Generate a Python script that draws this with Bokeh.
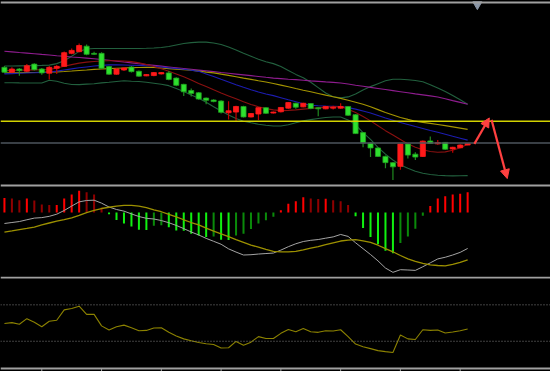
import numpy as np
from bokeh.plotting import figure
from bokeh.layouts import column
from bokeh.models import Range1d, Span, Arrow, NormalHead
from bokeh.embed import file_html
from bokeh.resources import INLINE

# ---------------- data ----------------
open_ = [131.7, 126.7, 130.0, 127.7, 135.0, 130.0, 125.7, 130.7, 132.7, 146.0,
         147.7, 153.3, 146.0, 146.0, 132.5, 124.7, 129.0, 132.0, 127.7, 123.0,
         123.3, 125.0, 126.0, 120.7, 114.3, 108.0, 105.7, 100.3, 98.3, 97.3,
         85.3, 86.0, 91.7, 81.0, 84.0, 90.5, 85.0, 86.3, 90.0, 95.0,
         91.3, 94.7, 90.3, 89.3, 90.0, 90.0, 91.7, 83.3, 65.0, 54.3,
         49.3, 40.7, 34.3, 30.5, 53.3, 43.0, 40.7, 56.5, 53.5, 55.0,
         48.3, 49.5, 52.3]
close = [126.7, 130.0, 128.3, 133.3, 129.3, 126.0, 131.7, 132.7, 146.7, 149.0,
         154.0, 145.0, 145.0, 130.7, 124.7, 130.0, 131.0, 127.3, 122.7, 124.3,
         126.3, 126.3, 119.3, 113.3, 106.7, 105.0, 99.3, 98.0, 96.7, 85.7,
         87.3, 91.7, 81.0, 84.5, 90.5, 84.7, 86.0, 90.7, 95.7, 91.0,
         95.0, 89.7, 89.3, 91.7, 91.0, 91.7, 82.7, 64.0, 54.3, 49.3,
         40.7, 34.3, 30.0, 53.3, 42.0, 40.0, 56.3, 54.0, 54.8, 48.0,
         50.0, 52.3, 54.0]
high = [133.0, 131.7, 131.0, 135.0, 136.0, 131.0, 133.0, 134.0, 148.0, 151.0,
        156.0, 155.0, 147.7, 147.0, 133.3, 131.0, 132.0, 133.0, 128.5, 125.0,
        127.0, 127.0, 128.0, 121.5, 115.0, 110.0, 106.5, 101.0, 99.0, 98.0,
        97.0, 92.5, 92.5, 85.0, 91.0, 91.0, 86.5, 91.0, 96.0, 95.5,
        95.5, 95.0, 91.0, 92.0, 92.5, 95.0, 92.0, 84.0, 65.5, 55.0,
        50.0, 41.5, 35.0, 54.0, 54.0, 45.0, 57.0, 61.0, 57.5, 55.5,
        50.5, 53.0, 54.5]
low = [126.0, 125.7, 123.0, 127.0, 128.5, 124.0, 119.3, 125.0, 132.0, 145.0,
       147.0, 144.0, 144.5, 130.0, 124.0, 124.0, 128.0, 126.5, 122.0, 122.5,
       122.5, 124.5, 118.5, 112.5, 102.3, 102.0, 98.5, 94.0, 96.0, 84.5,
       78.3, 77.0, 80.5, 80.5, 78.0, 84.0, 84.5, 85.5, 89.5, 89.3,
       91.0, 89.0, 81.7, 89.0, 88.5, 89.5, 82.0, 63.5, 50.0, 40.0,
       40.0, 28.5, 16.7, 27.0, 38.5, 37.0, 40.0, 53.5, 52.5, 47.5,
       44.3, 49.0, 52.0]

boll_upper = [133.0, 133.0, 133.2, 133.3, 133.5, 133.7, 134.0, 135.5, 138.5, 143.0,
              148.0, 150.5, 151.0, 151.0, 151.0, 151.0, 151.0, 151.0, 151.0, 151.2,
              151.5, 152.0, 153.0, 154.5, 156.0, 157.0, 157.5, 157.5, 156.5, 155.0,
              152.5, 149.5, 146.0, 143.0, 140.0, 137.5, 135.5, 132.5, 128.5, 124.5,
              121.0, 116.5, 111.0, 105.5, 101.7, 100.5, 101.5, 104.5, 108.5, 112.0,
              115.0, 118.0, 119.5, 119.5, 119.0, 118.3, 117.0, 114.0, 110.5, 107.0,
              103.0, 98.5, 94.0]
boll_mid = [128.5, 128.5, 128.7, 128.9, 129.1, 129.3, 129.5, 131.0, 132.8, 134.5,
            136.0, 137.0, 137.7, 138.2, 138.5, 138.5, 138.2, 137.5, 136.3, 134.5,
            132.5, 130.2, 127.8, 125.0, 122.0, 118.7, 115.3, 112.0, 108.7, 105.5,
            102.5, 99.5, 96.5, 93.8, 91.5, 89.5, 88.2, 87.5, 87.7, 88.2,
            89.0, 89.7, 90.4, 91.0, 91.4, 91.6, 89.0, 85.5, 81.5, 77.0,
            72.0, 67.0, 62.5, 58.0, 53.5, 50.0, 47.5, 45.7, 45.0, 45.3,
            47.0, 49.5, 53.0]
boll_lower = [116.0, 116.0, 115.8, 115.7, 115.7, 115.7, 118.5, 117.5, 115.5, 114.2,
              114.0, 114.5, 115.0, 115.8, 116.5, 117.3, 118.0, 117.5, 117.3, 116.5,
              115.5, 114.5, 113.0, 110.0, 107.0, 103.5, 100.0, 96.0, 91.5, 87.0,
              83.0, 79.5, 76.7, 75.0, 73.5, 72.5, 71.7, 71.7, 73.0, 75.0,
              77.0, 78.3, 79.5, 80.5, 81.0, 81.0, 78.0, 73.0, 65.0, 58.0,
              50.0, 43.0, 37.0, 32.0, 28.5, 25.5, 23.5, 22.2, 21.4, 21.0,
              20.8, 20.9, 21.0]
ma_blue = [125.0, 125.3, 125.6, 125.9, 126.2, 126.5, 126.7, 127.8, 129.0, 130.1,
           131.2, 132.1, 133.0, 133.7, 134.2, 134.2, 134.1, 133.9, 133.7, 133.4,
           132.8, 132.0, 131.2, 130.5, 129.7, 128.8, 127.6, 125.0, 122.3, 119.5,
           116.8, 114.0, 111.3, 108.8, 106.5, 104.5, 102.8, 100.7, 98.5, 96.5,
           94.5, 93.0, 92.5, 92.2, 92.0, 91.7, 90.5, 89.0, 87.0, 85.0,
           82.5, 80.0, 77.7, 75.4, 73.3, 71.2, 69.2, 67.2, 65.4, 63.4,
           61.3, 59.3, 57.3]
ma_olive = [126.0, 126.1, 126.2, 126.4, 126.5, 126.7, 126.9, 127.1, 127.4, 127.9,
            128.5, 129.0, 129.6, 130.0, 130.4, 130.8, 131.1, 131.4, 131.6, 131.7,
            131.5, 131.0, 130.4, 129.8, 129.4, 128.7, 127.8, 126.8, 126.0, 124.8,
            123.5, 122.1, 120.7, 119.4, 118.0, 116.7, 115.2, 113.5, 111.8, 110.0,
            108.3, 106.7, 105.0, 103.3, 101.7, 100.0, 98.0, 96.0, 94.0, 91.5,
            88.5, 85.5, 83.0, 80.5, 78.5, 76.7, 75.5, 74.4, 73.3, 72.1,
            70.9, 69.6, 68.3]
ma_purple = [148.1, 147.5, 146.8, 146.2, 145.6, 144.9, 144.3, 143.6, 143.0, 142.3,
             141.7, 141.1, 140.4, 139.7, 138.9, 138.0, 137.1, 136.3, 135.4, 134.5,
             133.7, 132.9, 132.1, 131.3, 130.5, 129.7, 128.9, 128.1, 127.3, 126.4,
             125.6, 124.8, 124.0, 123.2, 122.4, 121.5, 120.7, 120.2, 119.6, 119.1,
             118.5, 117.9, 117.4, 116.8, 116.3, 115.7, 114.6, 113.4, 112.3, 111.2,
             110.1, 109.0, 107.9, 106.8, 105.7, 104.6, 103.6, 102.5, 101.4, 99.6,
             97.7, 95.9, 94.0]
level_yellow = 76.7
level_gray = 54.3

macd_hist = [0.150, 0.144, 0.127, 0.144, 0.124, 0.084, 0.077, 0.078, 0.144, 0.184,
             0.224, 0.207, 0.184, 0.050, -0.016, -0.076, -0.110, -0.143, -0.176, -0.178,
             -0.133, -0.128, -0.150, -0.183, -0.185, -0.217, -0.233, -0.250, -0.245, -0.277,
             -0.280, -0.233, -0.217, -0.167, -0.110, -0.077, -0.043, 0.024, 0.090, 0.117,
             0.157, 0.144, 0.140, 0.142, 0.127, 0.117, 0.077, -0.036, -0.156, -0.250,
             -0.323, -0.390, -0.416, -0.310, -0.243, -0.166, -0.033, 0.067, 0.144, 0.167,
             0.184, 0.194, 0.207]
macd_dif = [-0.111, -0.101, -0.091, -0.073, -0.056, -0.051, -0.038, -0.016, 0.022, 0.067,
            0.110, 0.124, 0.127, 0.097, 0.057, 0.032, 0.015, -0.013, -0.040, -0.058,
            -0.065, -0.081, -0.103, -0.131, -0.163, -0.198, -0.228, -0.263, -0.293, -0.323,
            -0.370, -0.403, -0.433, -0.430, -0.423, -0.418, -0.413, -0.383, -0.348, -0.318,
            -0.295, -0.283, -0.275, -0.261, -0.248, -0.223, -0.243, -0.308, -0.368, -0.428,
            -0.493, -0.566, -0.610, -0.583, -0.586, -0.590, -0.553, -0.513, -0.473, -0.456,
            -0.433, -0.406, -0.366]
macd_dea = [-0.200, -0.187, -0.173, -0.161, -0.148, -0.126, -0.106, -0.087, -0.071, -0.053,
            -0.028, 0.000, 0.022, 0.042, 0.055, 0.067, 0.075, 0.075, 0.067, 0.052,
            0.029, 0.009, -0.018, -0.043, -0.073, -0.101, -0.126, -0.158, -0.188, -0.218,
            -0.245, -0.275, -0.303, -0.331, -0.353, -0.376, -0.396, -0.400, -0.400, -0.395,
            -0.381, -0.363, -0.348, -0.328, -0.308, -0.290, -0.281, -0.276, -0.288, -0.305,
            -0.333, -0.368, -0.400, -0.438, -0.473, -0.498, -0.518, -0.533, -0.540, -0.543,
            -0.528, -0.508, -0.483]

rsi = [49.5, 50.5, 48.7, 54.8, 50.9, 45.9, 52.0, 53.1, 64.5, 66.0,
       68.5, 59.5, 59.5, 46.9, 42.3, 45.9, 47.7, 44.8, 41.6, 41.9,
       44.5, 44.8, 39.8, 35.8, 32.6, 30.5, 28.7, 27.2, 26.5, 22.6,
       22.9, 29.8, 25.5, 29.0, 35.1, 33.0, 33.0, 38.7, 43.0, 40.5,
       44.1, 40.5, 39.8, 41.6, 41.2, 42.6, 35.1, 26.9, 24.0, 21.9,
       19.7, 18.6, 17.6, 36.9, 32.6, 31.9, 42.6, 41.9, 42.3, 39.1,
       40.1, 41.6, 43.4]
rsi_levels = [70, 30]

tick_idx = list(range(5, 63, 8))

# hand-drawn projection arrows (bar index, price)
proj_up_x, proj_up_y = [62.9, 64.9], [53.5, 80.0]
proj_down_x, proj_down_y = [65.2, 67.3], [78.0, 18.0]
marker_x, marker_y = [63.3], [196.0]

# ---------------- styling ----------------
W = 550
H_A, H_B, H_C = 183, 93, 95
BG = "#000000"
SEP = "#a0a0a0"
UP, DOWN = "#ff1a1a", "#2ee02e"
UP_WICK, DOWN_WICK = "#c00000", "#1f8a1f"

n = len(open_)
idx = np.arange(n)
xr = Range1d(-0.527, 73.09)


def make_fig(h, y0, y1):
    f = figure(width=W, height=h, x_range=xr, y_range=Range1d(y0, y1),
               output_backend="svg", toolbar_location=None,
               x_axis_type=None, y_axis_type=None,
               min_border=0, background_fill_color=BG, border_fill_color=BG,
               outline_line_color=None)
    f.grid.visible = False
    return f


# ---- price panel ----
pa = make_fig(H_A, 13, 200)
pa.add_layout(Span(location=198, dimension="width", line_color=SEP, line_width=2))
pa.add_layout(Span(location=level_yellow, dimension="width", line_color="#d2d200", line_width=1.5))
pa.add_layout(Span(location=level_gray, dimension="width", line_color="#4c545c", line_width=1.5))

pa.line(idx, boll_upper, line_color="#22603e", line_width=1.1)
pa.line(idx, boll_lower, line_color="#22603e", line_width=1.1)
pa.line(idx, ma_purple, line_color="#8e1c8e", line_width=1.1)
pa.line(idx, ma_olive, line_color="#a49400", line_width=1.1)
pa.line(idx, ma_blue, line_color="#1c1cb0", line_width=1.1)
pa.line(idx, boll_mid, line_color="#8a1010", line_width=1.1)

o = np.array(open_); c = np.array(close)
up = c >= o
wick_col = np.where(up, UP_WICK, DOWN_WICK)
body_col = np.where(up, UP, DOWN)
body_line = np.where(up, UP, "#1fa01f")
pa.segment(idx, high, idx, low, line_color=list(wick_col), line_width=1.2)
pa.vbar(x=idx, top=np.maximum(o, c), bottom=np.minimum(o, c), width=0.68,
        fill_color=list(body_col), line_color=list(body_line), line_width=0.8)

head = dict(size=9, fill_color="#ff4040", line_color="#ff4040")
pa.add_layout(Arrow(end=NormalHead(**head), x_start=proj_up_x[0], y_start=proj_up_y[0],
                    x_end=proj_up_x[1], y_end=proj_up_y[1], line_color="#ff4040", line_width=2.2))
pa.add_layout(Arrow(end=NormalHead(**head), x_start=proj_down_x[0], y_start=proj_down_y[0],
                    x_end=proj_down_x[1], y_end=proj_down_y[1], line_color="#ff4040", line_width=2.2))
pa.scatter(marker_x, marker_y, marker="inverted_triangle", size=9,
           fill_color="#8a96a6", line_color="#8a96a6")

# ---- MACD panel ----
pb = make_fig(H_B, -0.6525, 0.2975)
pb.add_layout(Span(location=0.277, dimension="width", line_color=SEP, line_width=2))
hist = np.array(macd_hist)
prev = np.concatenate([[0.0], hist[:-1]])
hcol = []
for h, pv in zip(hist, prev):
    if h >= 0:
        hcol.append("#ff0000" if h >= pv else "#900000")
    else:
        hcol.append("#10f010" if h <= pv else "#0a8a0a")
pb.vbar(x=idx, top=hist, bottom=0, width=0.27, fill_color=hcol, line_color=None)
pb.line(idx, macd_dif, line_color="#a4a4a4", line_width=1.0)
pb.line(idx, macd_dea, line_color="#9c9000", line_width=1.3)

# ---- RSI panel (0..100 scale, bottom strip holds the time ticks) ----
RSI_BOTTOM = -3.23
pc = make_fig(H_C, RSI_BOTTOM, 101.13)
pc.add_layout(Span(location=100, dimension="width", line_color=SEP, line_width=2))
for lv in rsi_levels:
    pc.add_layout(Span(location=lv, dimension="width", line_color="#808080",
                       line_width=1, line_dash="1 2"))
pc.line(idx, rsi, line_color="#8c8200", line_width=1.1)
pc.add_layout(Span(location=0, dimension="width", line_color=SEP, line_width=2))
pc.segment(x0=tick_idx, y0=[0] * len(tick_idx), x1=tick_idx, y1=[RSI_BOTTOM] * len(tick_idx),
           line_color=SEP, line_width=1)

layout = column(pa, pb, pc, spacing=0,
                styles={"margin": "0 -8px -8px 0", "background": BG})

open("out.html", "w").write(file_html(layout, INLINE))
